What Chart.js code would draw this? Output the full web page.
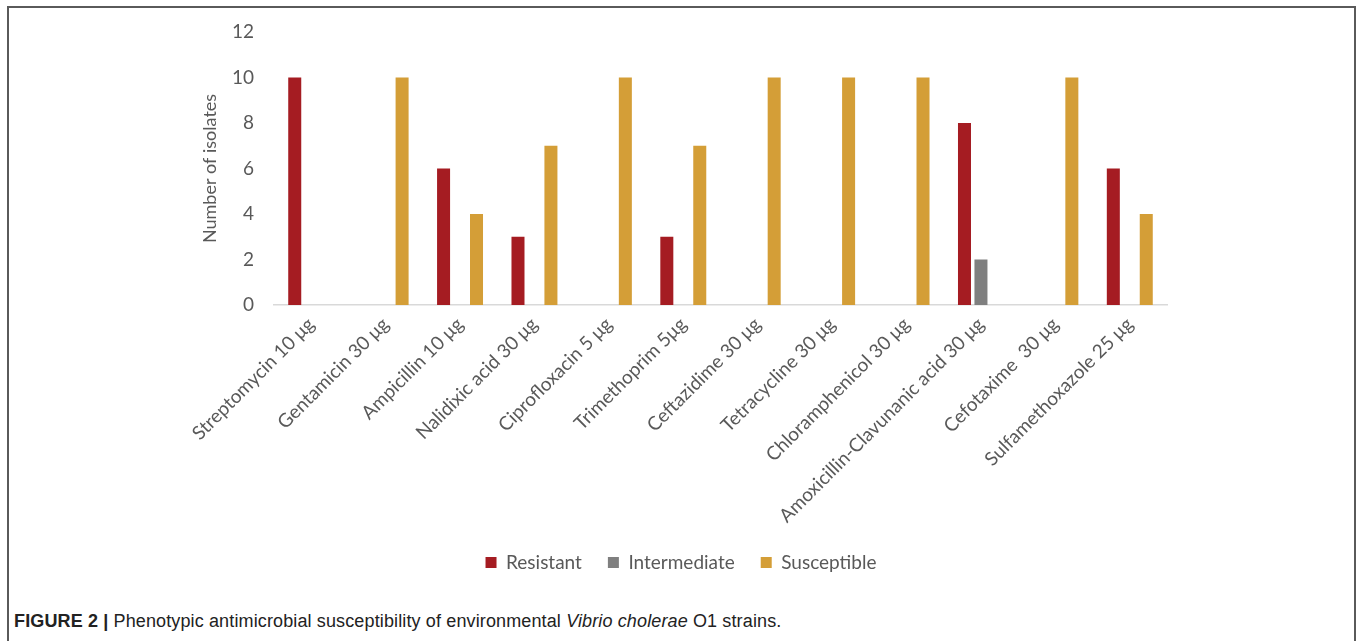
<!DOCTYPE html>
<html>
<head>
<meta charset="utf-8">
<script src="https://cdn.jsdelivr.net/npm/chart.js@4/dist/chart.umd.min.js"></script>
<style>
  body { margin: 0; background: #fff; }
  #frame {
    position: absolute; left: 7px; top: 6px; width: 1349px; height: 700px;
    border: 2px solid #5a5a5a; border-bottom: none; box-sizing: border-box;
  }
  #wrap { position: absolute; left: 0px; top: 0px; width: 1346px; height: 590px; }
  #caption {
    position: absolute; left: 14px; top: 611px;
    font-family: "Liberation Sans", Arial, sans-serif; font-size: 18px; color: #222;
    letter-spacing: 0.13px; white-space: nowrap;
  }
  #caption b { font-weight: bold; }
</style>
</head>
<body>
<div id="frame"><div id="wrap"><canvas id="chart"></canvas></div></div>
<div id="caption"><b>FIGURE 2 |</b> Phenotypic antimicrobial susceptibility of environmental <i>Vibrio cholerae</i> O1 strains.</div>
<script>
var categorias = ['Streptomycin 10 μg', 'Gentamicin 30 μg', 'Ampicillin 10 μg', 'Nalidixic acid 30 μg',
    'Ciprofloxacin 5 μg', 'Trimethoprim 5μg', 'Ceftazidime 30 μg', 'Tetracycline 30 μg',
    'Chloramphenicol 30 μg', 'Amoxicillin-Clavunanic acid 30 μg', 'Cefotaxime  30 μg', 'Sulfamethoxazole 25 μg'];
var resistant    = [10, 0, 6, 3, 0, 3, 0, 0, 0, 8, 0, 6];
var intermediate = [0, 0, 0, 0, 0, 0, 0, 0, 0, 2, 0, 0];
var susceptible  = [0, 10, 4, 7, 10, 7, 10, 10, 10, 0, 10, 4];
var yTicks = [0, 2, 4, 6, 8, 10, 12];

var fuente = 'Lato, "Open Sans", sans-serif';
var gris = '#595959';

var ctx = document.getElementById('chart').getContext('2d');
var chart = new Chart(ctx, {
    type: 'bar',
    data: {
        labels: categorias,
        datasets: [{
            label: 'Resistant',
            backgroundColor: '#a51c22',
            data: resistant
        }, {
            label: 'Intermediate',
            backgroundColor: '#7f7f7f',
            data: intermediate
        }, {
            label: 'Susceptible',
            backgroundColor: '#d49e37',
            data: susceptible
        }]
    },
    options: {
        responsive: true,
        maintainAspectRatio: false,
        animation: false,
        categoryPercentage: 0.664,
        barPercentage: 0.79,
        layout: { padding: { left: 186, right: 188, top: 24, bottom: 16 } },
        plugins: {
            tooltip: { enabled: false },
            legend: {
                position: 'bottom',
                labels: {
                    boxWidth: 11, boxHeight: 11, padding: 26,
                    color: gris,
                    font: { family: fuente, size: 19 }
                }
            }
        },
        scales: {
            x: {
                grid: { display: false },
                border: { display: true, color: '#d9d9d9', width: 1.5 },
                ticks: {
                    color: gris, minRotation: 45, maxRotation: 45, padding: 0,
                    font: { family: fuente, size: 19 }
                },
                afterFit: function(scale){ scale.height = 222; }
            },
            y: {
                min: 0, max: 12,
                grid: { display: false },
                border: { display: false },
                afterBuildTicks: function(scale){
                    scale.ticks = yTicks.map(function(v){ return { value: v }; });
                },
                ticks: {
                    color: gris, padding: 12,
                    font: { family: fuente, size: 19 }
                },
                title: {
                    display: true, text: 'Number of isolates', color: gris,
                    padding: { top: 4, bottom: 0 },
                    font: { family: fuente, size: 18 }
                },
                afterFit: function(scale){ scale.width = 79; }
            }
        }
    }
});
</script>
</body>
</html>
